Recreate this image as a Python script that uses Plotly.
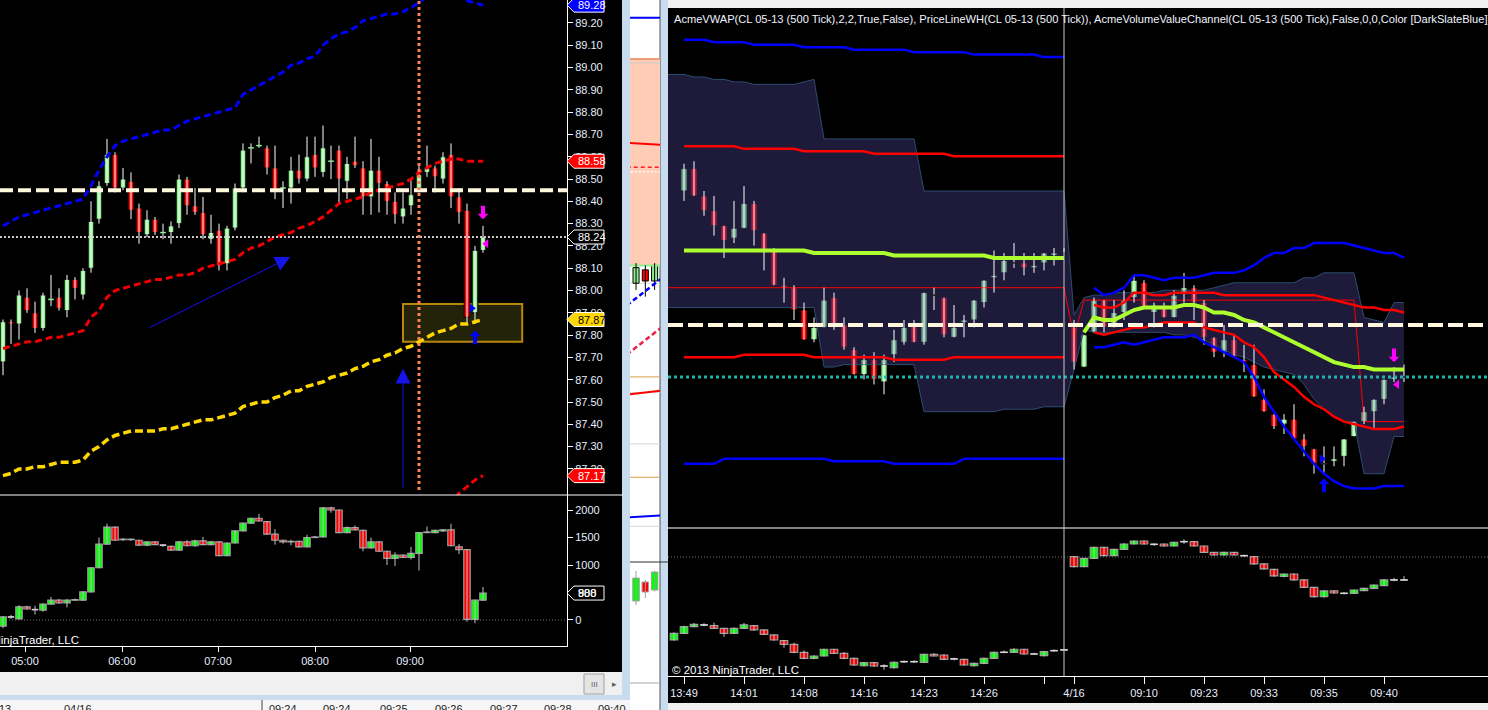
import plotly.graph_objects as go

W, H = 1488, 710
FONT = "Liberation Sans, Arial, sans-serif"
AXIS_TXT = "#e6eeff"

# ======================= LEFT CHART (price + volume) =======================
L_open = [87.68, 87.86, 87.85, 87.97, 87.90, 87.83, 87.96, 87.97, 87.91, 88.05,
          87.98, 88.10, 88.32, 88.48, 88.61, 88.46, 88.49, 88.37, 88.25, 88.32,
          88.26, 88.26, 88.30, 88.50, 88.38, 88.35, 88.23, 88.27, 88.12, 88.28,
          88.46, 88.64, 88.65, 88.64, 88.55, 88.46, 88.46, 88.54, 88.50, 88.61,
          88.53, 88.58, 88.63, 88.49, 88.58, 88.55, 88.42, 88.54, 88.48, 88.40,
          88.33, 88.38, 88.45, 88.53, 88.55, 88.50, 88.61, 88.42, 88.36, 87.90,
          88.18]
L_high = [87.87, 87.87, 88.00, 88.01, 87.95, 87.99, 88.07, 88.01, 88.07, 88.06,
          88.10, 88.40, 88.49, 88.68, 88.62, 88.55, 88.53, 88.39, 88.36, 88.33,
          88.30, 88.31, 88.52, 88.51, 88.46, 88.42, 88.34, 88.30, 88.29, 88.48,
          88.66, 88.66, 88.69, 88.65, 88.65, 88.49, 88.60, 88.61, 88.69, 88.69,
          88.74, 88.65, 88.65, 88.60, 88.69, 88.58, 88.68, 88.60, 88.49, 88.44,
          88.44, 88.50, 88.56, 88.65, 88.56, 88.62, 88.66, 88.46, 88.39, 88.20,
          88.29]
L_low = [87.62, 87.76, 87.78, 87.90, 87.81, 87.82, 87.93, 87.91, 87.88, 87.96,
         87.96, 88.08, 88.30, 88.47, 88.44, 88.45, 88.32, 88.21, 88.24, 88.25,
         88.23, 88.21, 88.28, 88.34, 88.34, 88.23, 88.21, 88.09, 88.09, 88.27,
         88.44, 88.57, 88.64, 88.52, 88.41, 88.37, 88.39, 88.48, 88.49, 88.51,
         88.51, 88.50, 88.39, 88.41, 88.55, 88.34, 88.34, 88.35, 88.34, 88.30,
         88.30, 88.34, 88.44, 88.51, 88.44, 88.48, 88.37, 88.30, 87.85, 87.85,
         88.17]
L_close = [87.86, 87.85, 87.98, 87.91, 87.83, 87.98, 87.96, 87.92, 88.05, 88.01,
           88.09, 88.31, 88.47, 88.61, 88.46, 88.50, 88.36, 88.26, 88.32, 88.26,
           88.26, 88.29, 88.50, 88.38, 88.35, 88.25, 88.26, 88.11, 88.28, 88.46,
           88.63, 88.64, 88.65, 88.55, 88.45, 88.46, 88.54, 88.50, 88.60, 88.55,
           88.64, 88.58, 88.50, 88.57, 88.56, 88.42, 88.54, 88.48, 88.40, 88.34,
           88.37, 88.43, 88.52, 88.55, 88.51, 88.60, 88.42, 88.35, 87.88, 88.18,
           88.24]
# VWAP bands (blue = +2sd, red = +1sd, yellow = vwap, red = -1sd)
L_up2 = [88.29, 88.31, 88.33, 88.34, 88.35, 88.36, 88.37, 88.38, 88.39, 88.40,
         88.41, 88.47, 88.54, 88.60, 88.65, 88.67, 88.68, 88.69, 88.70, 88.71,
         88.72, 88.72, 88.74, 88.76, 88.77, 88.78, 88.79, 88.80, 88.81, 88.82,
         88.88, 88.90, 88.92, 88.94, 88.96, 88.98, 89.01, 89.02, 89.04, 89.05,
         89.10, 89.13, 89.15, 89.16, 89.18, 89.21, 89.22, 89.23, 89.24, 89.24,
         89.25, 89.27, 89.29, 89.32, 89.35, 89.36, 89.36, 89.34, 89.30, 89.29,
         89.28]
L_up1 = [87.74, 87.75, 87.76, 87.77, 87.77, 87.78, 87.79, 87.79, 87.80, 87.81,
         87.82, 87.88, 87.91, 87.97, 88.00, 88.01, 88.02, 88.03, 88.04, 88.05,
         88.05, 88.06, 88.07, 88.07, 88.08, 88.10, 88.11, 88.12, 88.13, 88.14,
         88.17, 88.19, 88.20, 88.22, 88.24, 88.25, 88.26, 88.28, 88.29, 88.31,
         88.33, 88.36, 88.39, 88.40, 88.41, 88.42, 88.44, 88.45, 88.46, 88.47,
         88.48, 88.50, 88.53, 88.55, 88.57, 88.58, 88.59, 88.59, 88.58, 88.58,
         88.58]
L_vwap = [87.17, 87.18, 87.20, 87.20, 87.21, 87.21, 87.22, 87.23, 87.23, 87.23,
          87.24, 87.28, 87.30, 87.33, 87.35, 87.36, 87.37, 87.37, 87.37, 87.37,
          87.38, 87.38, 87.39, 87.40, 87.41, 87.42, 87.42, 87.43, 87.44, 87.45,
          87.48, 87.49, 87.50, 87.50, 87.52, 87.53, 87.55, 87.55, 87.57, 87.58,
          87.59, 87.61, 87.62, 87.63, 87.65, 87.66, 87.68, 87.69, 87.71, 87.72,
          87.74, 87.75, 87.77, 87.79, 87.81, 87.82, 87.83, 87.85, 87.85, 87.86,
          87.87]
L_dn1_idx = [55, 56, 57, 58, 59, 60]
L_dn1 = [86.99, 87.05, 87.09, 87.12, 87.15, 87.17]

L_vol_open = [-110, 55, 20, 240, 190, 180, 290, 360, 310, 360,
              360, 510, 950, 1380, 1690, 1460, 1470, 1450, 1360, 1420,
              1360, 1340, 1270, 1420, 1350, 1440, 1370, 1420, 1170, 1400,
              1620, 1760, 1850, 1790, 1560, 1450, 1420, 1430, 1330, 1500,
              1510, 2040, 2000, 1590, 1680, 1630, 1310, 1420, 1250, 1120,
              1180, 1140, 1210, 1590, 1590, 1620, 1640, 1330, 1280, 10,
              360]
L_vol_high = [70, 90, 270, 260, 260, 300, 420, 380, 380, 390,
              520, 960, 1500, 1750, 1700, 1490, 1480, 1460, 1430, 1430,
              1380, 1350, 1440, 1450, 1460, 1510, 1440, 1430, 1410, 1630,
              1770, 1860, 1930, 1800, 1650, 1460, 1460, 1440, 1550, 1530,
              2050, 2060, 2010, 1700, 1720, 1640, 1500, 1430, 1260, 1230,
              1190, 1330, 1600, 1700, 1640, 1650, 1750, 1380, 1290, 370,
              600]
L_vol_low = [-150, 20, 10, 190, 100, 150, 280, 300, 230, 350,
             350, 500, 940, 1370, 1440, 1440, 1440, 1350, 1340, 1360,
             1330, 1260, 1260, 1340, 1330, 1360, 1360, 1160, 1160, 1390,
             1610, 1750, 1790, 1550, 1370, 1390, 1360, 1320, 1320, 1490,
             1500, 1950, 1580, 1580, 1630, 1250, 1300, 1240, 1000, 980,
             1130, 1100, 900, 1580, 1580, 1600, 1340, 1200, -30, -60,
             350]
L_vol_close = [55, 55, 240, 200, 190, 290, 360, 310, 360, 370,
               510, 950, 1380, 1690, 1450, 1470, 1460, 1360, 1420, 1370,
               1360, 1270, 1420, 1350, 1440, 1370, 1420, 1170, 1400, 1620,
               1760, 1850, 1800, 1560, 1450, 1420, 1430, 1330, 1500, 1510,
               2040, 2000, 1590, 1680, 1640, 1310, 1420, 1250, 1120, 1180,
               1140, 1210, 1590, 1600, 1630, 1640, 1350, 1280, 10, 360,
               490]

L_price_ticks = [87.2, 87.3, 87.4, 87.5, 87.6, 87.7, 87.8, 87.9, 88.0, 88.1,
                 88.2, 88.3, 88.4, 88.5, 88.6, 88.7, 88.8, 88.9, 89.0, 89.1, 89.2]
L_vol_ticks = [0, 500, 1000, 1500, 2000]
L_xtick_pos = [2.75, 14.875, 26.875, 39.0, 50.875]
L_xtick_text = ["05:00", "06:00", "07:00", "08:00", "09:00"]

L_hline = 88.45                 # cream dashed level
L_vline_bar = 52                # orange dotted vertical marker
L_box = dict(x0=50, x1=64.9, y0=87.77, y1=87.94)
L_trend_arrow = dict(x0=18.1, y0=87.83, x1=35.9, y1=88.15)
L_up_arrow = dict(x=50, y0=87.11, y1=87.65)
L_sig_down = (60, 88.32)
L_sig_up = (59, 87.82)
L_tri_left = (60.4, 88.21)
L_tri_right = (58.6, 87.92)

# ======================= MIDDLE (partly hidden window) =====================
M_open = [88.03, 88.09, 88.04]
M_high = [88.12, 88.11, 88.12]
M_low = [88.00, 87.97, 88.00]
M_close = [88.10, 88.04, 88.11]
M_line_x = [-1, 3]
M_blue_top = [89.22, 89.22]
M_red_top = [88.66, 88.65]
M_red_dash_top = [88.55, 88.55]
M_white_dot = [88.53, 88.53]
M_green = [88.11, 88.11]
M_blue_dash = [87.93, 88.06]
M_red_dash = [87.71, 87.84]
M_red_mid = [87.53, 87.55]
M_blue_low = [86.98, 86.99]
M_zone = (88.11, 89.04)
M_orange_levels = [87.61, 87.16]
M_gray_levels = [88.03, 87.54, 87.31, 86.94]
M_vol_open = [602, 796, 714]
M_vol_high = [908, 816, 910]
M_vol_low = [561, 632, 700]
M_vol_close = [836, 694, 898]

# ======================= RIGHT CHART (price + volume) ======================
R_open = [88.99, 89.08, 88.97, 88.91, 88.85, 88.80, 88.84, 88.94, 88.82, 88.75,
          88.61, 88.60, 88.51, 88.39, 88.44, 88.56, 88.45, 88.35, 88.25, 88.31,
          88.22, 88.33, 88.38, 88.45, 88.38, 88.57, 88.56, 88.40, 88.46, 88.47,
          88.54, 88.64, 88.66, 88.70, 88.70, 88.68, 88.70, 88.73, 88.74,
          88.44, 88.28, 88.42, 88.55, 88.44, 88.50, 88.56, 88.62, 88.50, 88.53, 88.48,
          88.58, 88.60, 88.54, 88.40, 88.34, 88.39, 88.31, 88.29, 88.15, 88.09,
          88.05, 88.07, 87.99, 87.95, 87.89, 87.90, 87.92, 88.00, 88.06, 88.10,
          88.15, 88.23, 88.24]
R_high = [89.10, 89.11, 88.99, 88.97, 88.85, 88.95, 89.01, 88.95, 88.82, 88.76,
          88.64, 88.61, 88.54, 88.48, 88.60, 88.58, 88.48, 88.36, 88.33, 88.34,
          88.33, 88.43, 88.47, 88.47, 88.58, 88.60, 88.56, 88.53, 88.49, 88.55,
          88.63, 88.75, 88.74, 88.78, 88.74, 88.74, 88.74, 88.76, 88.76,
          88.47, 88.41, 88.56, 88.55, 88.55, 88.59, 88.65, 88.63, 88.54, 88.54, 88.59,
          88.66, 88.61, 88.55, 88.40, 88.45, 88.41, 88.37, 88.37, 88.19, 88.09,
          88.09, 88.13, 88.01, 87.95, 87.96, 87.96, 87.99, 88.06, 88.12, 88.15,
          88.23, 88.28, 88.29]
R_low = [88.95, 88.97, 88.89, 88.81, 88.72, 88.78, 88.84, 88.77, 88.67, 88.61,
         88.54, 88.47, 88.39, 88.38, 88.44, 88.43, 88.35, 88.25, 88.23, 88.21,
         88.17, 88.30, 88.37, 88.38, 88.37, 88.51, 88.40, 88.40, 88.40, 88.44,
         88.52, 88.58, 88.63, 88.68, 88.65, 88.66, 88.67, 88.69, 88.74,
         88.27, 88.28, 88.42, 88.42, 88.44, 88.47, 88.54, 88.52, 88.44, 88.48, 88.48,
         88.54, 88.47, 88.37, 88.32, 88.32, 88.32, 88.26, 88.16, 88.10, 88.03,
         88.01, 87.99, 87.92, 87.85, 87.85, 87.88, 87.88, 88.00, 88.05, 88.03,
         88.13, 88.22, 88.22]
R_close = [89.08, 88.97, 88.91, 88.85, 88.79, 88.84, 88.94, 88.83, 88.75, 88.61,
           88.60, 88.51, 88.39, 88.44, 88.55, 88.44, 88.36, 88.25, 88.31, 88.23,
           88.31, 88.39, 88.44, 88.38, 88.58, 88.57, 88.41, 88.44, 88.47, 88.55,
           88.63, 88.65, 88.71, 88.70, 88.68, 88.69, 88.74, 88.74, 88.74,
           88.30, 88.41, 88.55, 88.44, 88.50, 88.55, 88.63, 88.52, 88.53, 88.48, 88.57,
           88.60, 88.54, 88.40, 88.34, 88.39, 88.32, 88.30, 88.16, 88.10, 88.04,
           88.07, 87.99, 87.96, 87.89, 87.89, 87.91, 87.99, 88.06, 88.10, 88.15,
           88.23, 88.24, 88.24]

# previous session bands (bars 0..38)
R_prev_up2 = [89.60, 89.60, 89.60, 89.59, 89.59, 89.59, 89.59, 89.58, 89.58, 89.58,
              89.58, 89.58, 89.57, 89.57, 89.57, 89.57, 89.57, 89.56, 89.56, 89.56,
              89.56, 89.56, 89.56, 89.55, 89.55, 89.55, 89.55, 89.55, 89.55, 89.54,
              89.54, 89.54, 89.54, 89.54, 89.54, 89.54, 89.53, 89.53, 89.53]
R_prev_up1 = [89.17, 89.17, 89.17, 89.17, 89.17, 89.17, 89.16, 89.16, 89.16, 89.16,
              89.16, 89.16, 89.15, 89.15, 89.15, 89.15, 89.15, 89.15, 89.15, 89.14,
              89.14, 89.14, 89.14, 89.14, 89.14, 89.14, 89.14, 89.13, 89.13, 89.13,
              89.13, 89.13, 89.13, 89.13, 89.13, 89.13, 89.13, 89.13, 89.13]
R_prev_vwap = [88.75, 88.75, 88.75, 88.75, 88.75, 88.75, 88.75, 88.75, 88.75, 88.75,
               88.75, 88.75, 88.75, 88.74, 88.74, 88.74, 88.74, 88.74, 88.74, 88.74,
               88.74, 88.73, 88.73, 88.73, 88.73, 88.73, 88.73, 88.73, 88.73, 88.73,
               88.73, 88.72, 88.72, 88.72, 88.72, 88.72, 88.72, 88.72, 88.72]
R_prev_dn1 = [88.32, 88.32, 88.32, 88.32, 88.32, 88.32, 88.33, 88.33, 88.33, 88.33,
              88.33, 88.33, 88.33, 88.32, 88.32, 88.32, 88.32, 88.32, 88.32, 88.32,
              88.32, 88.31, 88.31, 88.31, 88.31, 88.31, 88.31, 88.32, 88.32, 88.32,
              88.32, 88.32, 88.32, 88.32, 88.32, 88.32, 88.32, 88.32, 88.32]
R_prev_dn2 = [87.89, 87.89, 87.89, 87.89, 87.91, 87.91, 87.91, 87.91, 87.91, 87.91,
              87.91, 87.91, 87.91, 87.91, 87.91, 87.90, 87.90, 87.90, 87.90, 87.90,
              87.90, 87.89, 87.89, 87.89, 87.89, 87.89, 87.89, 87.89, 87.91, 87.91,
              87.91, 87.91, 87.91, 87.91, 87.91, 87.91, 87.91, 87.91, 87.91]
# current session (vwap from bar 40, bands from bar 41)
R_new_vwap = [88.42, 88.48, 88.47, 88.47, 88.49, 88.51, 88.52, 88.52, 88.52, 88.52,
              88.53, 88.53, 88.52, 88.50, 88.50, 88.49, 88.47, 88.46, 88.44, 88.42,
              88.40, 88.38, 88.36, 88.34, 88.32, 88.30, 88.29, 88.28, 88.28, 88.27,
              88.27, 88.27, 88.27]
R_new_up2 = [88.60, 88.57, 88.58, 88.60, 88.65, 88.65, 88.64, 88.63, 88.64, 88.64,
             88.64, 88.65, 88.66, 88.66, 88.66, 88.67, 88.69, 88.72, 88.74, 88.74,
             88.76, 88.76, 88.78, 88.78, 88.78, 88.78, 88.77, 88.76, 88.75, 88.74,
             88.74, 88.72]
R_new_up1 = [88.53, 88.52, 88.52, 88.54, 88.58, 88.58, 88.57, 88.57, 88.58, 88.58,
             88.58, 88.58, 88.58, 88.57, 88.57, 88.57, 88.57, 88.57, 88.57, 88.57,
             88.57, 88.57, 88.57, 88.56, 88.55, 88.54, 88.53, 88.52, 88.52, 88.51,
             88.51, 88.50]
R_new_dn1 = [88.42, 88.41, 88.42, 88.43, 88.44, 88.44, 88.45, 88.46, 88.46, 88.46,
             88.46, 88.44, 88.43, 88.42, 88.41, 88.38, 88.36, 88.32, 88.26, 88.23,
             88.20, 88.16, 88.13, 88.11, 88.08, 88.06, 88.05, 88.04, 88.03, 88.03,
             88.03, 88.04]
R_new_dn2 = [88.36, 88.36, 88.37, 88.38, 88.37, 88.38, 88.39, 88.40, 88.40, 88.40,
             88.41, 88.38, 88.36, 88.34, 88.32, 88.30, 88.24, 88.16, 88.10, 88.04,
             87.99, 87.94, 87.89, 87.85, 87.82, 87.80, 87.79, 87.79, 87.79, 87.80,
             87.80, 87.80]
R_prev_idx = list(range(0, 39))
R_vwap_idx = list(range(40, 73))
R_band_idx = list(range(41, 73))

# volume value channel (bars -2..72)
R_chan_idx = list(range(-2, 73))
R_vc_upper = [89.46, 89.46, 89.46, 89.45, 89.45, 89.44, 89.44, 89.43, 89.43, 89.42,
              89.42, 89.42, 89.42, 89.42, 89.43, 89.44,
              89.20, 89.20, 89.20, 89.20, 89.20, 89.20, 89.20, 89.20, 89.20, 89.20,
              88.99, 88.99, 88.99, 88.99, 88.99, 88.99, 88.99, 88.99, 88.99, 88.99,
              88.99, 88.99, 88.99, 88.99, 88.99,
              88.49, 88.56, 88.57, 88.57, 88.58, 88.58, 88.58, 88.58, 88.58,
              88.59, 88.59, 88.59, 88.59, 88.59, 88.60, 88.61,
              88.62, 88.62, 88.62, 88.62, 88.62, 88.62, 88.62, 88.64, 88.64,
              88.66, 88.66, 88.66, 88.66, 88.48, 88.47, 88.46, 88.54, 88.54]
R_vc_lower = [88.52, 88.52, 88.52, 88.52, 88.52, 88.52, 88.52, 88.52, 88.52, 88.52,
              88.52, 88.52, 88.52, 88.52, 88.52, 88.52,
              88.28, 88.28, 88.29, 88.29, 88.29, 88.29, 88.29, 88.29, 88.29, 88.29,
              88.10, 88.10, 88.10, 88.10, 88.10, 88.10, 88.10, 88.10, 88.11, 88.11,
              88.11, 88.11, 88.12, 88.12, 88.12,
              88.27, 88.43, 88.42, 88.42, 88.42, 88.42, 88.42, 88.42, 88.42,
              88.42, 88.41, 88.41, 88.40, 88.39, 88.37, 88.35, 88.33, 88.32, 88.30,
              88.28, 88.27, 88.26, 88.25, 88.21, 88.15, 88.11, 88.08, 88.06, 88.06,
              87.85, 87.85, 87.85, 88.00, 88.00]
R_vah = [88.60, 88.60, 88.60, 88.60, 88.60, 88.60, 88.60, 88.60, 88.60, 88.60,
         88.60, 88.60, 88.60, 88.60, 88.60, 88.60, 88.60, 88.60, 88.60, 88.60,
         88.60, 88.60, 88.60, 88.60, 88.60, 88.60, 88.60, 88.60, 88.60, 88.60,
         88.60, 88.60, 88.60, 88.60, 88.60, 88.60, 88.60, 88.60, 88.60, 88.60,
         88.60,
         88.40, 88.55, 88.55, 88.55, 88.55, 88.55, 88.55, 88.55, 88.55, 88.55,
         88.55, 88.55, 88.55, 88.55, 88.55, 88.55, 88.55, 88.55, 88.55, 88.55,
         88.55, 88.55, 88.55, 88.55, 88.55, 88.55, 88.55, 88.55, 88.55,
         88.06, 88.06, 88.06, 88.06, 88.06]

# right lower panel (bars -1..72)
R_vol_idx = list(range(-1, 73))
R_vol_open = [-1509,
              -1388, -1267, -1236, -1249, -1297, -1388, -1297, -1249, -1327, -1418,
              -1521, -1588, -1733, -1842, -1800, -1678, -1751, -1842, -1976, -1921,
              -1982, -2012, -1903, -1903, -1915, -1770, -1782, -1854, -1860, -1976,
              -1933, -1842, -1733, -1733, -1678, -1764, -1794, -1703, -1690,
              5, -176, -24, 176, 24, 140, 236, 291, 230, 236, 200,
              279, 279, 200, 85, 36, 85, 24, 5, -127, -224,
              -355, -309, -418, -552, -721, -618, -661, -661, -612, -570,
              -521, -418, -418]
R_vol_high = [-1370,
              -1250, -1200, -1205, -1195, -1290, -1280, -1200, -1240, -1320, -1410,
              -1510, -1560, -1700, -1790, -1670, -1670, -1730, -1830, -1910, -1910,
              -1950, -1900, -1880, -1880, -1760, -1750, -1770, -1830, -1850, -1920,
              -1830, -1720, -1700, -1660, -1670, -1740, -1710, -1680, -1680,
              15, -20, 185, 185, 150, 250, 300, 300, 250, 245, 275,
              320, 285, 205, 90, 95, 90, 40, 15, -120, -215,
              -300, -300, -410, -545, -610, -610, -640, -595, -560, -500,
              -400, -380, -350]
R_vol_low = [-1520,
             -1400, -1275, -1260, -1310, -1450, -1400, -1310, -1340, -1420, -1520,
             -1650, -1750, -1860, -1860, -1810, -1760, -1860, -1980, -1990, -2000,
             -2050, -2030, -1925, -1925, -1925, -1810, -1870, -1880, -1975, -1990,
             -1950, -1850, -1750, -1745, -1775, -1780, -1810, -1720, -1700,
             -190, -185, -35, 15, 15, 130, 225, 225, 200, 190, 190,
             240, 190, 75, 25, 25, 25, 5, -140, -230, -360,
             -370, -430, -565, -740, -740, -670, -680, -670, -620, -580,
             -530, -440, -430]
R_vol_close = [-1388,
               -1267, -1224, -1236, -1297, -1388, -1297, -1236, -1327, -1406, -1509,
               -1588, -1733, -1842, -1800, -1678, -1751, -1842, -1964, -1921, -1982,
               -1982, -1915, -1903, -1903, -1770, -1800, -1860, -1854, -1964, -1933,
               -1842, -1733, -1733, -1678, -1764, -1764, -1721, -1703, -1690,
               -176, -24, 176, 24, 140, 236, 291, 236, 230, 200, 264,
               279, 200, 85, 36, 85, 36, 24, -127, -218, -345,
               -310, -418, -552, -721, -618, -655, -661, -600, -570, -509,
               -418, -418, -418]

R_xtick_pos = [0, 6, 12, 18, 24, 30, 36, 39, 46, 52, 58, 64, 70]
R_xtick_text = ["13:49", "14:01", "14:08", "14:16", "14:23", "14:26", "",
                "4/16", "09:10", "09:23", "09:33", "09:35", "09:40"]
R_session_bar = 38
R_hline = 88.45
R_sig_down = (71, 88.30)
R_sig_up = (64, 87.83)
R_tri_left = (71.3, 88.21)
R_tri_right = (63.8, 87.91)

R_title = ("AcmeVWAP(CL 05-13 (500 Tick),2,2,True,False), PriceLineWH(CL 05-13 (500 Tick)), "
           "AcmeVolumeValueChannel(CL 05-13 (500 Tick),False,0,0,Color [DarkSlateBlue])")
COPYRIGHT = "© 2013 NinjaTrader, LLC"
BEHIND_LABELS = [("13", 5), ("04/16", 78), ("09:24", 283), ("09:24", 337), ("09:25", 394),
                 ("09:26", 449), ("09:27", 504), ("09:28", 558), ("09:40", 612)]


# ======================= helpers =======================
def fx(px):
    return px / W


def fy(py):
    return 1 - py / H


fig = go.Figure()
shapes = []
annotations = []


def candles(x, o, h, l, c, xa, ya, up, dn, edge, wick, width, doji, edge_w=1.0):
    wx, wy, dx, dy = [], [], [], []
    for xi, oi, hi, li, ci in zip(x, o, h, l, c):
        wx += [xi, xi, None]
        wy += [li, hi, None]
        if abs(ci - oi) < 1e-9:
            dx += [xi - width / 2, xi + width / 2, None]
            dy += [ci, ci, None]
    fig.add_trace(go.Scatter(x=wx, y=wy, mode="lines", line=dict(color=wick, width=1),
                             xaxis=xa, yaxis=ya, hoverinfo="skip"))
    base = [min(oi, ci) for oi, ci in zip(o, c)]
    hgt = [abs(ci - oi) for oi, ci in zip(o, c)]
    col = [up if ci >= oi else dn for oi, ci in zip(o, c)]
    fig.add_trace(go.Bar(x=x, y=hgt, base=base, width=width,
                         marker=dict(color=col, line=dict(color=edge, width=edge_w)),
                         xaxis=xa, yaxis=ya, hoverinfo="skip"))
    if dx:
        fig.add_trace(go.Scatter(x=dx, y=dy, mode="lines", line=dict(color=doji, width=1.5),
                                 xaxis=xa, yaxis=ya, hoverinfo="skip"))


def line(x, y, xa, ya, color, width, dash=None):
    fig.add_trace(go.Scatter(x=x, y=y, mode="lines",
                             line=dict(color=color, width=width, dash=dash),
                             xaxis=xa, yaxis=ya, hoverinfo="skip"))


def rect_px(x0, y0, x1, y1, color, layer="below", border=None):
    shapes.append(dict(type="rect", xref="paper", yref="paper",
                       x0=fx(x0), x1=fx(x1), y0=fy(y1), y1=fy(y0),
                       fillcolor=color, layer=layer,
                       line=dict(width=0) if border is None else border))


def hline_px(y, x0, x1, color, width=1, dash=None, layer="above"):
    shapes.append(dict(type="line", xref="paper", yref="paper", x0=fx(x0), x1=fx(x1),
                       y0=fy(y), y1=fy(y), layer=layer,
                       line=dict(color=color, width=width, dash=dash)))


def flag(yref, yval, fill, text, tcolor, texts=None):
    shapes.append(dict(type="path", xref="paper", yref=yref, xsizemode="pixel",
                       ysizemode="pixel", xanchor=fx(567), yanchor=yval,
                       path="M0,0 L7,-7 L37,-7 L37,7 L7,7 Z", fillcolor=fill,
                       line=dict(color="white", width=1), layer="above"))
    for t in (texts or [text]):
        annotations.append(dict(xref="paper", yref=yref, x=fx(576), y=yval, xanchor="left",
                                yanchor="middle", text=t, showarrow=False,
                                font=dict(family=FONT, size=11, color=tcolor)))


def block_arrow(xa, ya, x, y, color, up):
    annotations.append(dict(xref=xa, yref=ya, x=x, y=y, ax=0, ay=15 if up else -15,
                            text="", showarrow=True, arrowhead=1, arrowsize=0.45,
                            arrowwidth=4, arrowcolor=color, standoff=0))


# ======================= window chrome =======================
rect_px(0, 672, 622, 695, "#F0F0F0")
rect_px(584, 674, 604, 694, "#E4E4E4", border=dict(color="#A0A0A0", width=1))
rect_px(0, 695, 622, 700, "#C9DBEF")
rect_px(0, 700, 630, 710, "#F6F6F6")
rect_px(622, 0, 630, 700, "#C9DBEF")
rect_px(630, 0, 660, 710, "#FFFFFF")
rect_px(660, 0, 668, 710, "#C9DBEF")
rect_px(668, 0, 1488, 8, "#F0F0F0")
rect_px(668, 703, 1488, 710, "#F0F0F0")
shapes.append(dict(type="line", xref="paper", yref="paper", x0=fx(660), x1=fx(660),
                   y0=0, y1=1, line=dict(color="#505050", width=1), layer="below"))
shapes.append(dict(type="line", xref="paper", yref="paper", x0=fx(262), x1=fx(262),
                   y0=fy(710), y1=fy(700), line=dict(color="#404040", width=1), layer="below"))
# middle window decorations
shapes.append(dict(type="rect", xref="x3 domain", yref="y3", x0=0, x1=1,
                   y0=M_zone[0], y1=M_zone[1], fillcolor="#FFCDB6",
                   line=dict(width=0), layer="below"))
hline_px(59, 630, 660, "#E06A3A", 1, layer="below")
hline_px(63, 630, 660, "#D0C8C0", 1, layer="below")
for lv in M_orange_levels:
    shapes.append(dict(type="line", xref="x3 domain", yref="y3", x0=0, x1=1, y0=lv, y1=lv,
                       line=dict(color="#D8A048", width=1), layer="below"))
for lv in M_gray_levels:
    shapes.append(dict(type="line", xref="x3 domain", yref="y3", x0=0, x1=1, y0=lv, y1=lv,
                       line=dict(color="#D8D8D8", width=1), layer="below"))
hline_px(562, 630, 668, "#303030", 1, layer="below")
hline_px(683, 630, 660, "#A8A8A8", 1, layer="below")

# ======================= LEFT CHART traces =======================
L_idx = list(range(len(L_close)))
shapes.append(dict(type="rect", xref="x", yref="y", x0=L_box["x0"], x1=L_box["x1"],
                   y0=L_box["y0"], y1=L_box["y1"], fillcolor="rgba(215,215,60,0.16)",
                   line=dict(color="#B8860B", width=2), layer="below"))
candles(L_idx, L_open, L_high, L_low, L_close, "x", "y", "#90EE90", "#FF0000",
        "#000000", "#FFFFFF", 0.7, "#90EE90")
line(L_idx, L_up2, "x", "y", "#0000FF", 3, "7px,4px")
line(L_idx, L_up1, "x", "y", "#F00000", 3, "7px,4px")
line(L_idx, L_vwap, "x", "y", "#FFD700", 3.5, "8px,4px")
line(L_dn1_idx, L_dn1, "x", "y", "#F00000", 3, "7px,4px")
shapes.append(dict(type="line", xref="x domain", yref="y", x0=0, x1=1, y0=L_hline, y1=L_hline,
                   line=dict(color="#FFF8DC", width=4, dash="13px,5px"), layer="above"))
shapes.append(dict(type="line", xref="x domain", yref="y", x0=0, x1=1,
                   y0=L_close[-1], y1=L_close[-1],
                   line=dict(color="#C8C8C8", width=2, dash="2px,2px"), layer="above"))
shapes.append(dict(type="line", xref="x", yref="y domain", x0=L_vline_bar, x1=L_vline_bar,
                   y0=0.01, y1=1, line=dict(color="#FF7F50", width=3, dash="3px,3px"),
                   layer="above"))
annotations.append(dict(xref="x", yref="y", x=L_trend_arrow["x1"], y=L_trend_arrow["y1"],
                        axref="x", ayref="y", ax=L_trend_arrow["x0"], ay=L_trend_arrow["y0"],
                        text="", showarrow=True, arrowhead=2, arrowsize=3, arrowwidth=1,
                        arrowcolor="#1414E6", standoff=0))
annotations.append(dict(xref="x", yref="y", x=L_up_arrow["x"], y=L_up_arrow["y1"],
                        axref="x", ayref="y", ax=L_up_arrow["x"], ay=L_up_arrow["y0"],
                        text="", showarrow=True, arrowhead=2, arrowsize=3, arrowwidth=1,
                        arrowcolor="#1414E6", standoff=0))
block_arrow("x", "y", L_sig_down[0], L_sig_down[1], "#FF00FF", False)
block_arrow("x", "y", L_sig_up[0], L_sig_up[1], "#0000FF", True)
fig.add_trace(go.Scatter(x=[L_tri_left[0]], y=[L_tri_left[1]], mode="markers",
                         marker=dict(symbol="triangle-left", size=8, color="#FF00FF"),
                         xaxis="x", yaxis="y", hoverinfo="skip"))
fig.add_trace(go.Scatter(x=[L_tri_right[0]], y=[L_tri_right[1]], mode="markers",
                         marker=dict(symbol="triangle-right", size=8, color="#0000FF"),
                         xaxis="x", yaxis="y", hoverinfo="skip"))

# left volume panel
shapes.append(dict(type="line", xref="x2 domain", yref="y2", x0=0, x1=1, y0=0, y1=0,
                   line=dict(color="#707070", width=1, dash="1px,2px"), layer="below"))
candles(L_idx, L_vol_open, L_vol_high, L_vol_low, L_vol_close, "x2", "y2", "#00FF00",
        "#FF0000", "#A0A0A0", "#C0C0C0", 0.8, "#D0D0D0", 1.2)

# flags on left price axis
flag("y", L_up2[-1], "#0000FF", f"{L_up2[-1]:.2f}", "white")
flag("y", L_up1[-1], "#FF0000", f"{L_up1[-1]:.2f}", "white")
flag("y", L_close[-1], "#000000", f"{L_close[-1]:.2f}", "white")
flag("y", L_vwap[-1], "#FFD700", f"{L_vwap[-1]:.2f}", "black")
flag("y", L_dn1[-1], "#FF0000", f"{L_dn1[-1]:.2f}", "white")
flag("y2", L_vol_close[-1], "#000000", "", "white", texts=["900", "888"])

# separators
hline_px(495, 0, 623, "#FFFFFF", 1)

# ======================= MIDDLE traces =======================
M_idx = list(range(len(M_close)))
line(M_line_x, M_blue_top, "x3", "y3", "#0000FF", 2)
line(M_line_x, M_red_top, "x3", "y3", "#FF0000", 2)
line(M_line_x, M_red_dash_top, "x3", "y3", "#FF2020", 1.5, "4px,3px")
line(M_line_x, M_white_dot, "x3", "y3", "#FFFFFF", 1.5, "2px,2px")
line(M_line_x, M_green, "x3", "y3", "#90EE90", 2)
line(M_line_x, M_red_mid, "x3", "y3", "#FF0000", 2)
line(M_line_x, M_blue_low, "x3", "y3", "#0000FF", 2)
candles(M_idx, M_open, M_high, M_low, M_close, "x3", "y3", "#90EE90", "#FF0000",
        "#000000", "#000000", 0.65, "#000000")
line(M_line_x, M_blue_dash, "x3", "y3", "#0000FF", 2.5, "5px,3px")
line(M_line_x, M_red_dash, "x3", "y3", "#E8204A", 2.5, "5px,3px")
candles(M_idx, M_vol_open, M_vol_high, M_vol_low, M_vol_close, "x6", "y6", "#00FF00",
        "#FF0000", "#A0A0A0", "#A0A0A0", 0.7, "#A0A0A0")

# ======================= RIGHT CHART traces =======================
R_idx = list(range(len(R_close)))
line(R_chan_idx, R_vc_upper, "x4", "y4", "#2E4C6E", 1)
fig.add_trace(go.Scatter(x=R_chan_idx, y=R_vc_lower, mode="lines",
                         line=dict(color="#2E4C6E", width=1), fill="tonexty",
                         fillcolor="rgba(72,61,139,0.42)", xaxis="x4", yaxis="y4",
                         hoverinfo="skip"))
line(R_chan_idx, R_vah, "x4", "y4", "#FF0000", 1)
candles(R_idx, R_open, R_high, R_low, R_close, "x4", "y4", "#90EE90", "#FF0000",
        "#000000", "#FFFFFF", 0.62, "#202020")
line(R_prev_idx, R_prev_up2, "x4", "y4", "#0000FF", 2.5)
line(R_prev_idx, R_prev_up1, "x4", "y4", "#FF0000", 2.5)
line(R_prev_idx, R_prev_vwap, "x4", "y4", "#ADFF2F", 4)
line(R_prev_idx, R_prev_dn1, "x4", "y4", "#FF0000", 2.5)
line(R_prev_idx, R_prev_dn2, "x4", "y4", "#0000FF", 2.5)
line(R_band_idx, R_new_up2, "x4", "y4", "#0000FF", 2.5)
line(R_band_idx, R_new_up1, "x4", "y4", "#FF0000", 2.5)
line(R_band_idx, R_new_dn1, "x4", "y4", "#FF0000", 2.5)
line(R_band_idx, R_new_dn2, "x4", "y4", "#0000FF", 2.5)
line(R_vwap_idx, R_new_vwap, "x4", "y4", "#ADFF2F", 4)
shapes.append(dict(type="line", xref="x4 domain", yref="y4", x0=0, x1=1, y0=R_hline, y1=R_hline,
                   line=dict(color="#FFF8DC", width=4, dash="15px,5px"), layer="above"))
shapes.append(dict(type="line", xref="x4 domain", yref="y4", x0=0, x1=1,
                   y0=R_close[-1], y1=R_close[-1],
                   line=dict(color="#20B2AA", width=3, dash="3px,3px"), layer="above"))
block_arrow("x4", "y4", R_sig_down[0], R_sig_down[1], "#FF00FF", False)
block_arrow("x4", "y4", R_sig_up[0], R_sig_up[1], "#0000FF", True)
fig.add_trace(go.Scatter(x=[R_tri_left[0]], y=[R_tri_left[1]], mode="markers",
                         marker=dict(symbol="triangle-left", size=8, color="#FF00FF"),
                         xaxis="x4", yaxis="y4", hoverinfo="skip"))
fig.add_trace(go.Scatter(x=[R_tri_right[0]], y=[R_tri_right[1]], mode="markers",
                         marker=dict(symbol="triangle-right", size=8, color="#0000FF"),
                         xaxis="x4", yaxis="y4", hoverinfo="skip"))

# right lower panel
shapes.append(dict(type="line", xref="x5 domain", yref="y5", x0=0, x1=1, y0=0, y1=0,
                   line=dict(color="#707070", width=1, dash="1px,2px"), layer="below"))
candles(R_vol_idx, R_vol_open, R_vol_high, R_vol_low, R_vol_close, "x5", "y5", "#00FF00",
        "#FF0000", "#A0A0A0", "#C8C8C8", 0.75, "#D8D8D8", 1.2)
hline_px(528, 668, 1488, "#FFFFFF", 1)
shapes.append(dict(type="line", xref="x4", yref="paper", x0=R_session_bar, x1=R_session_bar,
                   y0=fy(676), y1=fy(8), line=dict(color="#C8C8C8", width=1), layer="above"))

# ======================= texts =======================
annotations.append(dict(xref="paper", yref="paper", x=fx(672), y=fy(19), xanchor="left",
                        yanchor="middle", text=R_title, showarrow=False,
                        font=dict(family=FONT, size=11.1, color="#F0F4FF")))
annotations.append(dict(xref="paper", yref="paper", x=fx(670), y=fy(670), xanchor="left",
                        yanchor="middle", text=COPYRIGHT, showarrow=False,
                        font=dict(family=FONT, size=11.5, color="#FFFFFF")))
annotations.append(dict(xref="paper", yref="paper", x=fx(81), y=fy(640), xanchor="right",
                        yanchor="middle", text=COPYRIGHT, showarrow=False,
                        font=dict(family=FONT, size=11.5, color="#FFFFFF")))
for txt, xp in BEHIND_LABELS:
    annotations.append(dict(xref="paper", yref="paper", x=fx(xp), y=fy(709), xanchor="center",
                            yanchor="middle", text=txt, showarrow=False,
                            font=dict(family=FONT, size=11, color="#202020")))
annotations.append(dict(xref="paper", yref="paper", x=fx(594), y=fy(684), xanchor="center",
                        yanchor="middle", text="III", showarrow=False,
                        font=dict(family=FONT, size=8, color="#606060")))
annotations.append(dict(xref="paper", yref="paper", x=fx(614), y=fy(684), xanchor="center",
                        yanchor="middle", text="▸", showarrow=False,
                        font=dict(family="DejaVu Sans", size=9, color="#606060")))

# ======================= axes / layout =======================
hidden = dict(showgrid=False, zeroline=False, showticklabels=False, ticks="",
              showline=False, fixedrange=True)
tickfont = dict(family=FONT, size=11, color=AXIS_TXT)
right_axis = dict(side="right", showgrid=False, zeroline=False, showline=True,
                  linecolor="white", linewidth=1, ticks="outside", ticklen=5,
                  tickcolor="white", tickwidth=1, tickfont=tickfont, fixedrange=True)
bottom_axis = dict(showgrid=False, zeroline=False, showline=True, linecolor="white",
                   linewidth=1, ticks="outside", tickcolor="white", tickwidth=1,
                   tickfont=tickfont, tickmode="array", fixedrange=True)

fig.update_layout(
    width=W, height=H, autosize=False,
    margin=dict(l=0, r=0, t=0, b=0, pad=0),
    paper_bgcolor="#000000", plot_bgcolor="rgba(0,0,0,0)",
    showlegend=False, hovermode=False, barmode="overlay",
    xaxis=dict(domain=[0, fx(567)], range=[-0.375, 70.5], anchor="y", **hidden),
    yaxis=dict(domain=[fy(495), 1], range=[87.083, 89.303], anchor="x",
               tickvals=L_price_ticks, ticktext=[f"{v:.2f}" for v in L_price_ticks],
               **right_axis),
    xaxis2=dict(domain=[0, fx(567)], range=[-0.375, 70.5], anchor="y2",
                tickvals=L_xtick_pos, ticktext=L_xtick_text, ticklen=5, **bottom_axis),
    yaxis2=dict(domain=[fy(646), fy(495)], range=[-473, 2273], anchor="x2",
                tickvals=L_vol_ticks, ticktext=[str(v) for v in L_vol_ticks], **right_axis),
    xaxis3=dict(domain=[fx(630), fx(660)], range=[-0.65, 2.58], anchor="y3", **hidden),
    yaxis3=dict(domain=[fy(562), 1], range=[86.78, 89.30], anchor="x3", **hidden),
    xaxis6=dict(domain=[fx(630), fx(660)], range=[-0.65, 2.58], anchor="y6", **hidden),
    yaxis6=dict(domain=[fy(660), fy(562)], range=[0, 1000], anchor="x6", **hidden),
    xaxis4=dict(domain=[fx(668), 1], range=[-1.6, 80.4], anchor="y4", **hidden),
    yaxis4=dict(domain=[fy(528), fy(8)], range=[87.631, 89.728], anchor="x4", **hidden),
    xaxis5=dict(domain=[fx(668), 1], range=[-1.6, 80.4], anchor="y5",
                tickvals=R_xtick_pos, ticktext=R_xtick_text, ticklen=7, **bottom_axis),
    yaxis5=dict(domain=[fy(676), fy(528)], range=[-2164, 527], anchor="x5", **hidden),
    shapes=shapes,
    annotations=annotations,
)

fig.write_html("out.html", config={"displayModeBar": False, "staticPlot": True},
               post_script="document.body.style.margin='0';document.body.style.overflow='hidden';")
